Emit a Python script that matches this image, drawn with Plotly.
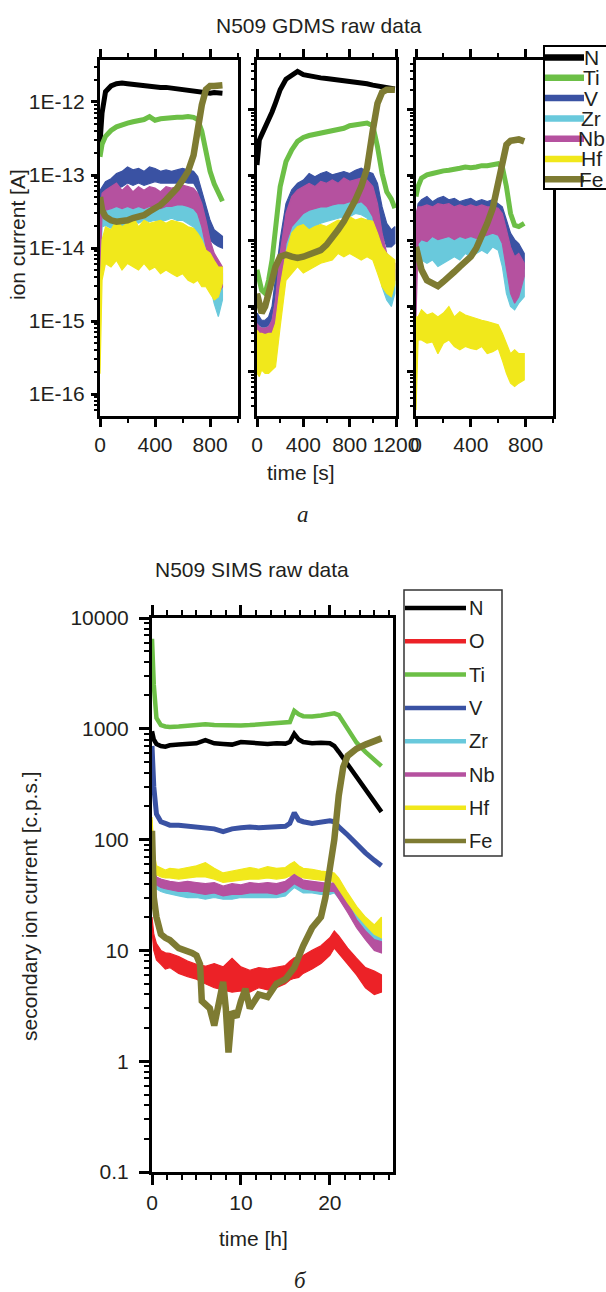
import plotly.graph_objects as go

W, H = 606, 1292
FONT = "Liberation Sans, Arial, sans-serif"
TXT = "#231f20"

top_species = ["N", "Ti", "V", "Zr", "Nb", "Hf", "Fe"]
bottom_species = ["N", "O", "Ti", "V", "Zr", "Nb", "Hf", "Fe"]
colors = {"N": "#000000", "O": "#ec2227", "Ti": "#6cbf46", "V": "#3a52a3",
          "Zr": "#69c9dc", "Nb": "#b5519f", "Hf": "#f1e81b", "Fe": "#7e7b32"}

# ---------------- GDMS (values are log10 of ion current in A) ----------------
p1_t = [0, 15, 40, 80, 120, 160, 200, 240, 280, 320, 360, 400, 440, 480, 520, 560,
        600, 640, 680, 710, 740, 770, 800, 830, 860, 890]
p1_N = [-12.56, -12.15, -11.86, -11.78, -11.75, -11.74, -11.75, -11.76, -11.77, -11.77,
        -11.78, -11.79, -11.80, -11.80, -11.81, -11.82, -11.83, -11.84, -11.85, -11.86,
        -11.86, -11.87, -11.88, -11.87, -11.88, -11.88]
p1_Ti = [-12.75, -12.58, -12.47, -12.39, -12.34, -12.31, -12.29, -12.27, -12.26, -12.24,
         -12.20, -12.25, -12.23, -12.22, -12.22, -12.21, -12.21, -12.20, -12.21, -12.24,
         -12.40, -12.70, -12.95, -13.12, -13.25, -13.36]
p1_V_hi = [-13.21, -13.16, -13.09, -13.05, -12.98, -12.95, -12.89, -12.93, -12.91, -12.95,
           -12.89, -12.91, -12.95, -12.93, -12.95, -12.93, -12.91, -12.93, -12.95, -13.02,
           -13.21, -13.43, -13.62, -13.75, -13.80, -13.84]
p1_V_lo = [-13.71, -13.34, -13.27, -13.23, -13.18, -13.16, -13.11, -13.14, -13.11, -13.14,
           -13.11, -13.09, -13.11, -13.11, -13.11, -13.11, -13.09, -13.11, -13.11, -13.21,
           -13.43, -13.71, -13.89, -13.94, -13.98, -14.00]
p1_Zr_hi = [-13.71, -13.43, -13.41, -13.43, -13.41, -13.43, -13.41, -13.39, -13.41, -13.39,
            -13.37, -13.34, -13.37, -13.34, -13.34, -13.34, -13.37, -13.39, -13.41, -13.48,
            -13.62, -13.84, -14.07, -14.26, -14.35, -14.35]
p1_Zr_lo = [-14.44, -13.71, -13.69, -13.73, -13.66, -13.71, -13.66, -13.64, -13.66, -13.62,
            -13.64, -13.62, -13.64, -13.62, -13.59, -13.62, -13.62, -13.66, -13.71, -13.80,
            -13.98, -14.26, -14.53, -14.76, -14.94, -14.71]
p1_Nb_hi = [-13.53, -13.25, -13.21, -13.16, -13.11, -13.21, -13.14, -13.23, -13.16, -13.21,
            -13.16, -13.18, -13.23, -13.16, -13.18, -13.16, -13.14, -13.16, -13.18, -13.25,
            -13.39, -13.62, -13.89, -14.07, -14.17, -14.26]
p1_Nb_lo = [-14.35, -13.53, -13.48, -13.46, -13.43, -13.46, -13.43, -13.46, -13.43, -13.46,
            -13.43, -13.43, -13.46, -13.43, -13.43, -13.41, -13.41, -13.43, -13.46, -13.53,
            -13.71, -13.98, -14.26, -14.44, -14.62, -14.53]
p1_Hf_hi = [-14.58, -13.89, -13.71, -13.75, -13.62, -13.71, -13.66, -13.57, -13.71, -13.62,
            -13.66, -13.64, -13.62, -13.66, -13.62, -13.64, -13.66, -13.71, -13.73, -13.80,
            -13.89, -14.03, -14.07, -14.17, -14.26, -14.26]
p1_Hf_lo = [-15.72, -14.44, -14.21, -14.26, -14.17, -14.30, -14.21, -14.26, -14.30, -14.21,
            -14.30, -14.26, -14.35, -14.30, -14.35, -14.39, -14.35, -14.44, -14.48, -14.44,
            -14.53, -14.53, -14.62, -14.71, -14.67, -14.48]
p1_Fe = [-13.30, -13.48, -13.57, -13.62, -13.64, -13.64, -13.62, -13.59, -13.57, -13.55,
         -13.50, -13.46, -13.41, -13.34, -13.27, -13.18, -13.07, -12.95, -12.73, -12.34,
         -12.04, -11.83, -11.78, -11.78, -11.77, -11.77]

p2_t = [0, 20, 40, 70, 100, 130, 160, 200, 250, 300, 350, 400, 450, 500, 550, 600, 650,
        700, 750, 800, 850, 900, 950, 1000, 1040, 1080, 1120, 1160, 1190]
p2_N = [-12.84, -12.46, -12.38, -12.27, -12.15, -12.03, -11.89, -11.69, -11.53, -11.47,
        -11.41, -11.46, -11.48, -11.50, -11.51, -11.52, -11.53, -11.54, -11.55, -11.57,
        -11.58, -11.59, -11.60, -11.62, -11.63, -11.65, -11.66, -11.67, -11.68]
p2_Ti = [-14.44, -14.60, -14.75, -14.80, -14.60, -14.29, -13.78, -13.17, -12.79, -12.61,
         -12.48, -12.42, -12.39, -12.37, -12.35, -12.33, -12.31, -12.30, -12.28, -12.24,
         -12.23, -12.21, -12.20, -12.24, -12.56, -12.97, -13.25, -13.36, -13.50]
p2_V_hi = [-15.10, -15.16, -15.21, -15.21, -15.16, -15.00, -14.60, -13.98, -13.43, -13.22,
           -13.12, -13.07, -12.97, -13.02, -12.97, -12.94, -12.99, -12.97, -12.94, -12.97,
           -12.92, -12.89, -12.94, -12.97, -13.12, -13.48, -13.73, -13.83, -13.78]
p2_V_lo = [-15.31, -15.36, -15.41, -15.41, -15.36, -15.31, -15.10, -14.44, -13.83, -13.53,
           -13.43, -13.35, -13.32, -13.27, -13.25, -13.25, -13.22, -13.22, -13.20, -13.22,
           -13.20, -13.17, -13.17, -13.27, -13.48, -13.88, -14.09, -14.09, -14.04]
p2_Zr_hi = [-15.28, -15.31, -15.33, -15.33, -15.31, -15.23, -14.95, -14.29, -13.83, -13.63,
            -13.53, -13.48, -13.43, -13.45, -13.37, -13.43, -13.35, -13.37, -13.32, -13.35,
            -13.27, -13.30, -13.32, -13.48, -13.78, -14.14, -14.39, -14.44, -14.44]
p2_Zr_lo = [-15.41, -15.43, -15.43, -15.43, -15.41, -15.38, -15.31, -14.80, -14.29, -14.09,
            -13.98, -13.88, -13.83, -13.78, -13.73, -13.70, -13.68, -13.65, -13.63, -13.63,
            -13.58, -13.60, -13.65, -13.88, -14.29, -14.70, -14.90, -15.00, -14.80]
p2_Nb_hi = [-15.26, -15.31, -15.33, -15.33, -15.31, -15.21, -14.90, -14.19, -13.58, -13.32,
            -13.22, -13.17, -13.12, -13.17, -13.09, -13.12, -13.07, -13.12, -13.04, -13.09,
            -13.07, -13.04, -13.07, -13.17, -13.43, -13.88, -14.19, -14.29, -14.34]
p2_Nb_lo = [-15.43, -15.46, -15.46, -15.46, -15.43, -15.41, -15.31, -14.70, -14.04, -13.78,
            -13.68, -13.58, -13.53, -13.50, -13.48, -13.48, -13.45, -13.43, -13.43, -13.40,
            -13.43, -13.40, -13.48, -13.63, -13.98, -14.39, -14.65, -14.70, -14.60]
p2_Hf_hi = [-15.36, -15.41, -15.41, -15.43, -15.41, -15.41, -15.26, -14.70, -14.19, -13.88,
            -13.78, -13.75, -13.83, -13.78, -13.75, -13.78, -13.73, -13.68, -13.70, -13.63,
            -13.68, -13.65, -13.68, -13.70, -13.88, -14.09, -14.19, -14.24, -14.29]
p2_Hf_lo = [-16.02, -16.07, -15.97, -16.02, -16.02, -15.97, -15.92, -15.31, -14.60, -14.49,
            -14.39, -14.49, -14.44, -14.39, -14.34, -14.31, -14.29, -14.19, -14.24, -14.19,
            -14.24, -14.29, -14.24, -14.29, -14.49, -14.70, -14.80, -14.85, -14.65]
p2_Fe = [-14.80, -15.00, -15.10, -15.00, -14.80, -14.60, -14.39, -14.24, -14.21, -14.24,
         -14.26, -14.24, -14.21, -14.19, -14.14, -14.06, -13.96, -13.83, -13.70, -13.55,
         -13.37, -13.17, -12.89, -12.31, -11.90, -11.73, -11.69, -11.69, -11.69]

p3_t = [0, 15, 40, 80, 120, 160, 200, 240, 280, 320, 360, 400, 440, 480, 520, 560, 600,
        630, 660, 690, 720, 750, 790]
p3_Ti = [-13.32, -13.17, -13.04, -12.99, -12.97, -12.94, -12.93, -12.92, -12.91, -12.89,
         -12.87, -12.88, -12.87, -12.85, -12.85, -12.84, -12.82, -12.87, -13.17, -13.58,
         -13.76, -13.78, -13.73]
p3_V_hi = [-13.68, -13.43, -13.37, -13.32, -13.40, -13.35, -13.32, -13.37, -13.35, -13.40,
           -13.37, -13.35, -13.40, -13.37, -13.40, -13.37, -13.43, -13.48, -13.68, -13.88,
           -13.98, -14.04, -14.19]
p3_V_lo = [-13.98, -13.78, -13.73, -13.70, -13.73, -13.70, -13.73, -13.70, -13.73, -13.73,
           -13.70, -13.70, -13.73, -13.70, -13.73, -13.73, -13.76, -13.83, -14.09, -14.34,
           -14.49, -14.44, -14.44]
p3_Zr_hi = [-13.98, -13.88, -13.81, -13.78, -13.76, -13.78, -13.73, -13.76, -13.78, -13.76,
            -13.73, -13.76, -13.78, -13.76, -13.81, -13.83, -13.86, -13.98, -14.24, -14.39,
            -14.49, -14.44, -14.44]
p3_Zr_lo = [-14.49, -14.19, -14.29, -14.34, -14.29, -14.39, -14.34, -14.29, -14.24, -14.29,
            -14.19, -14.24, -14.19, -14.14, -14.19, -14.09, -14.14, -14.39, -14.80, -15.00,
            -15.05, -14.95, -14.85]
p3_Nb_hi = [-13.58, -13.48, -13.48, -13.45, -13.48, -13.43, -13.45, -13.43, -13.48, -13.45,
            -13.48, -13.45, -13.48, -13.45, -13.48, -13.48, -13.50, -13.58, -13.83, -14.09,
            -14.24, -14.19, -14.34]
p3_Nb_lo = [-15.16, -14.04, -13.98, -14.01, -13.93, -13.98, -13.96, -13.93, -13.98, -13.93,
            -13.96, -13.93, -13.96, -13.93, -13.91, -13.88, -13.91, -14.04, -14.44, -14.80,
            -14.95, -14.85, -14.54]
p3_Hf_hi = [-15.16, -15.16, -15.05, -15.13, -15.10, -15.16, -15.10, -15.00, -15.16, -15.08,
            -15.13, -15.16, -15.18, -15.21, -15.23, -15.26, -15.28, -15.41, -15.56, -15.72,
            -15.66, -15.72, -15.72]
p3_Hf_lo = [-16.58, -15.51, -15.51, -15.56, -15.54, -15.72, -15.56, -15.51, -15.61, -15.66,
            -15.61, -15.64, -15.66, -15.61, -15.72, -15.69, -15.64, -15.82, -16.02, -16.17,
            -16.22, -16.17, -16.12]
p3_Fe = [-14.09, -14.24, -14.44, -14.60, -14.65, -14.69, -14.62, -14.53, -14.47, -14.39,
         -14.31, -14.24, -14.11, -13.93, -13.73, -13.50, -13.12, -12.79, -12.53, -12.47,
         -12.47, -12.45, -12.48]

# ---------------- SIMS (secondary ion current, c.p.s.) ----------------
b_t = [0, 0.2, 0.5, 1, 1.5, 2, 3, 4, 5, 6, 7, 8, 9, 10, 11, 12, 13, 14, 15, 15.5, 16,
       16.5, 17, 18, 19, 20, 20.5, 21, 22, 23, 24, 25, 25.8]
b_N = [950, 800, 730, 700, 690, 710, 720, 730, 740, 790, 740, 730, 720, 760, 750, 740,
       730, 740, 735, 760, 900, 800, 760, 740, 750, 740, 700, 620, 480, 360, 285, 220, 178]
b_Ti = [6500, 2500, 1250, 1080, 1050, 1040, 1050, 1070, 1090, 1100, 1080, 1070, 1060,
        1070, 1080, 1090, 1100, 1110, 1120, 1150, 1450, 1350, 1300, 1290, 1320, 1370,
        1380, 1330, 1000, 750, 620, 520, 460]
b_V = [700, 300, 170, 145, 140, 135, 135, 132, 130, 128, 125, 118, 125, 128, 130, 128,
       130, 130, 132, 140, 175, 150, 145, 140, 145, 148, 145, 130, 110, 90, 76, 65, 58]
b_O_hi = [20, 14, 11.5, 10, 9.5, 9.4, 8.8, 8.0, 7.5, 7.2, 7.6, 7.1, 8.5, 7.1, 6.6, 7.0,
          6.8, 7.0, 7.3, 8.0, 8.6, 8.2, 9.0, 10.0, 11.0, 13.0, 15.0, 13.5, 10.5, 8.5,
          7.0, 6.5, 6.0]
b_O_lo = [15, 10, 8.2, 7.5, 6.8, 7.0, 6.2, 5.8, 5.5, 5.0, 4.6, 4.4, 4.2, 4.3, 4.2, 4.6,
          4.4, 4.6, 5.0, 5.4, 5.6, 5.7, 6.2, 6.8, 7.6, 9.0, 10.5, 9.5, 7.5, 6.0, 4.6,
          4.0, 4.2]
b_Zr_hi = [140, 65, 43, 41, 40, 40, 39, 39, 38, 38, 38, 36, 37, 37, 38, 37, 38, 38, 39,
           42, 46, 43, 41, 40, 39, 39, 40, 37, 29, 22, 17, 14, 13]
b_Zr_lo = [100, 45, 36, 34, 33, 32, 31, 30, 30, 29, 30, 29, 29, 30, 30, 30, 30, 30, 31,
           34, 37, 35, 33, 33, 32, 32, 33, 30, 24, 17, 13, 11, 10]
b_Nb_hi = [150, 70, 46, 44, 43, 42, 41, 42, 41, 40, 41, 38, 40, 39, 41, 40, 41, 40, 42,
           45, 50, 46, 43, 42, 41, 40, 41, 36, 27, 19, 15, 12.5, 12]
b_Nb_lo = [110, 50, 39, 37, 36, 35, 34, 34, 33, 32, 33, 31, 32, 32, 33, 33, 33, 32, 34,
           37, 40, 38, 36, 35, 34, 34, 34, 30, 22, 16, 12.5, 10, 9.5]
b_Hf_hi = [160, 80, 58, 55, 53, 55, 54, 56, 58, 62, 55, 50, 52, 54, 56, 54, 57, 55, 56,
           60, 63, 58, 55, 54, 52, 51, 50, 45, 33, 25, 20, 17, 20]
b_Hf_lo = [120, 60, 48, 46, 45, 45, 44, 45, 46, 46, 44, 41, 42, 43, 44, 44, 45, 44, 45,
           47, 50, 47, 45, 44, 43, 43, 41, 36, 27, 21, 17, 14, 13]
b_Fe_t = [0, 0.2, 0.5, 1, 1.5, 2, 3, 4, 4.5, 5, 5.4, 5.6, 6, 6.5, 7, 7.5, 8, 8.3, 8.6, 9,
          9.5, 10, 10.5, 11, 12, 13, 14, 15, 16, 17, 18, 19, 19.5, 20, 20.5, 21, 21.5,
          22, 23, 24, 25, 25.8]
b_Fe = [120, 30, 20, 14, 13, 12.4, 10.5, 10, 9.5, 9.0, 7.5, 3.5, 3.2, 3.0, 2.1, 3.5,
        5.2, 3.0, 1.2, 2.8, 2.5, 3.5, 4.5, 3.0, 4.0, 3.8, 5.0, 5.5, 7.0, 11, 16, 20, 30,
        55, 100, 250, 450, 570, 660, 720, 770, 820]

# ---------------- figure ----------------
def px(x):
    return x / W


def py(y):
    return 1 - y / H


def ten(v):
    return [10 ** x for x in v]


fig = go.Figure()


def add_line(t, y, color, width, xa, ya):
    fig.add_trace(go.Scatter(x=t, y=y, mode="lines", line=dict(color=color, width=width),
                             xaxis=xa, yaxis=ya, showlegend=False, hoverinfo="skip"))


def add_band(t, hi, lo, color, xa, ya):
    fig.add_trace(go.Scatter(x=list(t) + list(t)[::-1], y=list(hi) + list(lo)[::-1],
                             mode="lines", fill="toself", fillcolor=color,
                             line=dict(color=color, width=1.2),
                             xaxis=xa, yaxis=ya, showlegend=False, hoverinfo="skip"))


gdms_panels = [
    (p1_t, {"N": p1_N, "Ti": p1_Ti, "V": (p1_V_hi, p1_V_lo), "Zr": (p1_Zr_hi, p1_Zr_lo),
            "Nb": (p1_Nb_hi, p1_Nb_lo), "Hf": (p1_Hf_hi, p1_Hf_lo), "Fe": p1_Fe}, "x", "y"),
    (p2_t, {"N": p2_N, "Ti": p2_Ti, "V": (p2_V_hi, p2_V_lo), "Zr": (p2_Zr_hi, p2_Zr_lo),
            "Nb": (p2_Nb_hi, p2_Nb_lo), "Hf": (p2_Hf_hi, p2_Hf_lo), "Fe": p2_Fe}, "x2", "y2"),
    (p3_t, {"Ti": p3_Ti, "V": (p3_V_hi, p3_V_lo), "Zr": (p3_Zr_hi, p3_Zr_lo),
            "Nb": (p3_Nb_hi, p3_Nb_lo), "Hf": (p3_Hf_hi, p3_Hf_lo), "Fe": p3_Fe}, "x3", "y3"),
]
top_width = {"N": 5, "Ti": 5, "Fe": 6.5}
for t, series, xa, ya in gdms_panels:
    for sp in top_species:
        if sp not in series:
            continue
        d = series[sp]
        if isinstance(d, tuple):
            add_band(t, ten(d[0]), ten(d[1]), colors[sp], xa, ya)
        else:
            add_line(t, ten(d), colors[sp], top_width[sp], xa, ya)

sims_lines = {"N": (b_t, b_N, 4.5), "Ti": (b_t, b_Ti, 4.5), "V": (b_t, b_V, 5),
              "Fe": (b_Fe_t, b_Fe, 6.5)}
sims_bands = {"O": (b_O_hi, b_O_lo), "Zr": (b_Zr_hi, b_Zr_lo), "Nb": (b_Nb_hi, b_Nb_lo),
              "Hf": (b_Hf_hi, b_Hf_lo)}
for sp in bottom_species:
    if sp in sims_lines:
        t, y, w = sims_lines[sp]
        add_line(t, y, colors[sp], w, "x4", "y4")
    else:
        hi, lo = sims_bands[sp]
        add_band(b_t, hi, lo, colors[sp], "x4", "y4")

# ---------------- axes ----------------
tickfont = dict(family=FONT, size=21, color=TXT)
base = dict(showline=True, linecolor="black", linewidth=3, ticks="outside", tickcolor="black",
            tickwidth=2.5, showgrid=False, zeroline=False, tickfont=tickfont,
            automargin=False)


def log_minor(e0, e1, length):
    vals = [m * 10.0 ** e for e in range(e0, e1) for m in range(2, 10)]
    return dict(ticks="outside", tickmode="array", tickvals=vals, ticklen=length,
                tickwidth=2, tickcolor="black", showgrid=False)


gdms_dec = [10.0 ** e for e in range(-16, -11)]
gdms_lab = ["1E%d" % e for e in range(-16, -11)]

top_y0, top_y1 = py(416), py(60)
x_specs = [("xaxis", "y", 100, 238, 1003), ("xaxis2", "y2", 257, 396, 1200),
           ("xaxis3", "y3", 416, 553, 1000)]
for name, anchor, a, b, rmax in x_specs:
    fig.update_layout({name: dict(base, domain=[px(a), px(b)], anchor=anchor, range=[0, rmax],
                                  tick0=0, dtick=400, ticklen=8, mirror="ticks",
                                  minor=dict(ticks="outside", dtick=200, tick0=0, ticklen=4,
                                             tickwidth=2, tickcolor="black", showgrid=False))})
y_specs = [("yaxis", "x", [-16.30, -11.425], True), ("yaxis2", "x2", [-16.672, -11.237], False),
           ("yaxis3", "x3", [-16.672, -11.237], False)]
for name, anchor, rng, labels in y_specs:
    fig.update_layout({name: dict(base, type="log", domain=[top_y0, top_y1], anchor=anchor,
                                  range=rng, tickmode="array", tickvals=gdms_dec,
                                  ticktext=gdms_lab, ticklen=6, mirror=True,
                                  showticklabels=labels, ticklabelstandoff=2,
                                  minor=log_minor(-17, -10, 3.5))})

fig.update_layout(
    xaxis4=dict(base, domain=[px(152), px(393)], anchor="y4", range=[0, 27.1], tick0=0,
                dtick=10, ticklen=10, mirror="ticks",
                minor=dict(ticks="outside", dtick=10 / 6, tick0=0, ticklen=5, tickwidth=2,
                           tickcolor="black", showgrid=False)),
    yaxis4=dict(base, type="log", domain=[py(1172), py(618)], anchor="x4", range=[-1, 4],
                tickmode="array", tickvals=[0.1, 1, 10, 100, 1000, 10000],
                ticktext=["0.1", "1", "10", "100", "1000", "10000"], ticklen=10,
                mirror=True, ticklabelstandoff=6, minor=log_minor(-1, 4, 5)),
)

# ---------------- texts ----------------
def label(text, x, y, size=21, angle=0, family=FONT):
    fig.add_annotation(text=text, x=px(x), y=py(y), xref="paper", yref="paper",
                       showarrow=False, xanchor="center", yanchor="middle",
                       textangle=angle, font=dict(family=family, size=size, color=TXT))


label("N509 GDMS raw data", 319, 25)
label("ion current [A]", 17, 235, angle=-90)
label("time [s]", 301, 472)
label("<i>а</i>", 303, 515, size=23, family="Liberation Serif, Times New Roman, serif")
label("N509 SIMS raw data", 252, 569)
label("secondary ion current [c.p.s.]", 29, 906, angle=-90)
label("time [h]", 253, 1238)
label("<i>б</i>", 300, 1280, size=23, family="Liberation Serif, Times New Roman, serif")

# ---------------- legends ----------------
shapes = []
# top legend box runs off the right edge of the page: white fill + open path
shapes.append(dict(type="rect", xref="paper", yref="paper", x0=px(544), x1=1,
                   y0=py(189), y1=py(46), line=dict(width=0),
                   fillcolor="white", layer="above"))
shapes.append(dict(type="path", xref="paper", yref="paper",
                   path="M %.5f %.5f L %.5f %.5f L %.5f %.5f L %.5f %.5f" % (
                       1, py(46), px(544), py(46), px(544), py(189), 1, py(189)),
                   line=dict(color="black", width=2), layer="above"))
for i, sp in enumerate(top_species):
    yy = 57.5 + i * 20.3
    shapes.append(dict(type="line", xref="paper", yref="paper", x0=px(545), x1=px(584),
                       y0=py(yy), y1=py(yy), line=dict(color=colors[sp], width=6.5),
                       layer="above"))
    fig.add_annotation(text=sp, x=px(591), y=py(yy), xref="paper", yref="paper",
                       showarrow=False, xanchor="center", yanchor="middle",
                       font=dict(family=FONT, size=21, color=TXT))

shapes.append(dict(type="rect", xref="paper", yref="paper", x0=px(404), x1=px(502),
                   y0=py(856), y1=py(590), line=dict(color="#333333", width=1.5),
                   fillcolor="white", layer="above"))
for i, sp in enumerate(bottom_species):
    yy = 608 + i * 33.3
    shapes.append(dict(type="line", xref="paper", yref="paper", x0=px(405), x1=px(466),
                       y0=py(yy), y1=py(yy), line=dict(color=colors[sp], width=4.5),
                       layer="above"))
    fig.add_annotation(text=sp, x=px(467), y=py(yy), xref="paper", yref="paper",
                       showarrow=False, xanchor="left", yanchor="middle",
                       font=dict(family=FONT, size=20, color=TXT))

fig.update_layout(width=W, height=H, margin=dict(l=0, r=0, t=0, b=0, autoexpand=False),
                  paper_bgcolor="white", plot_bgcolor="white", shapes=shapes,
                  font=dict(family=FONT, color=TXT), showlegend=False)

fig.write_html("out.html", config={"displayModeBar": False},
               post_script="document.body.style.margin='0';")
